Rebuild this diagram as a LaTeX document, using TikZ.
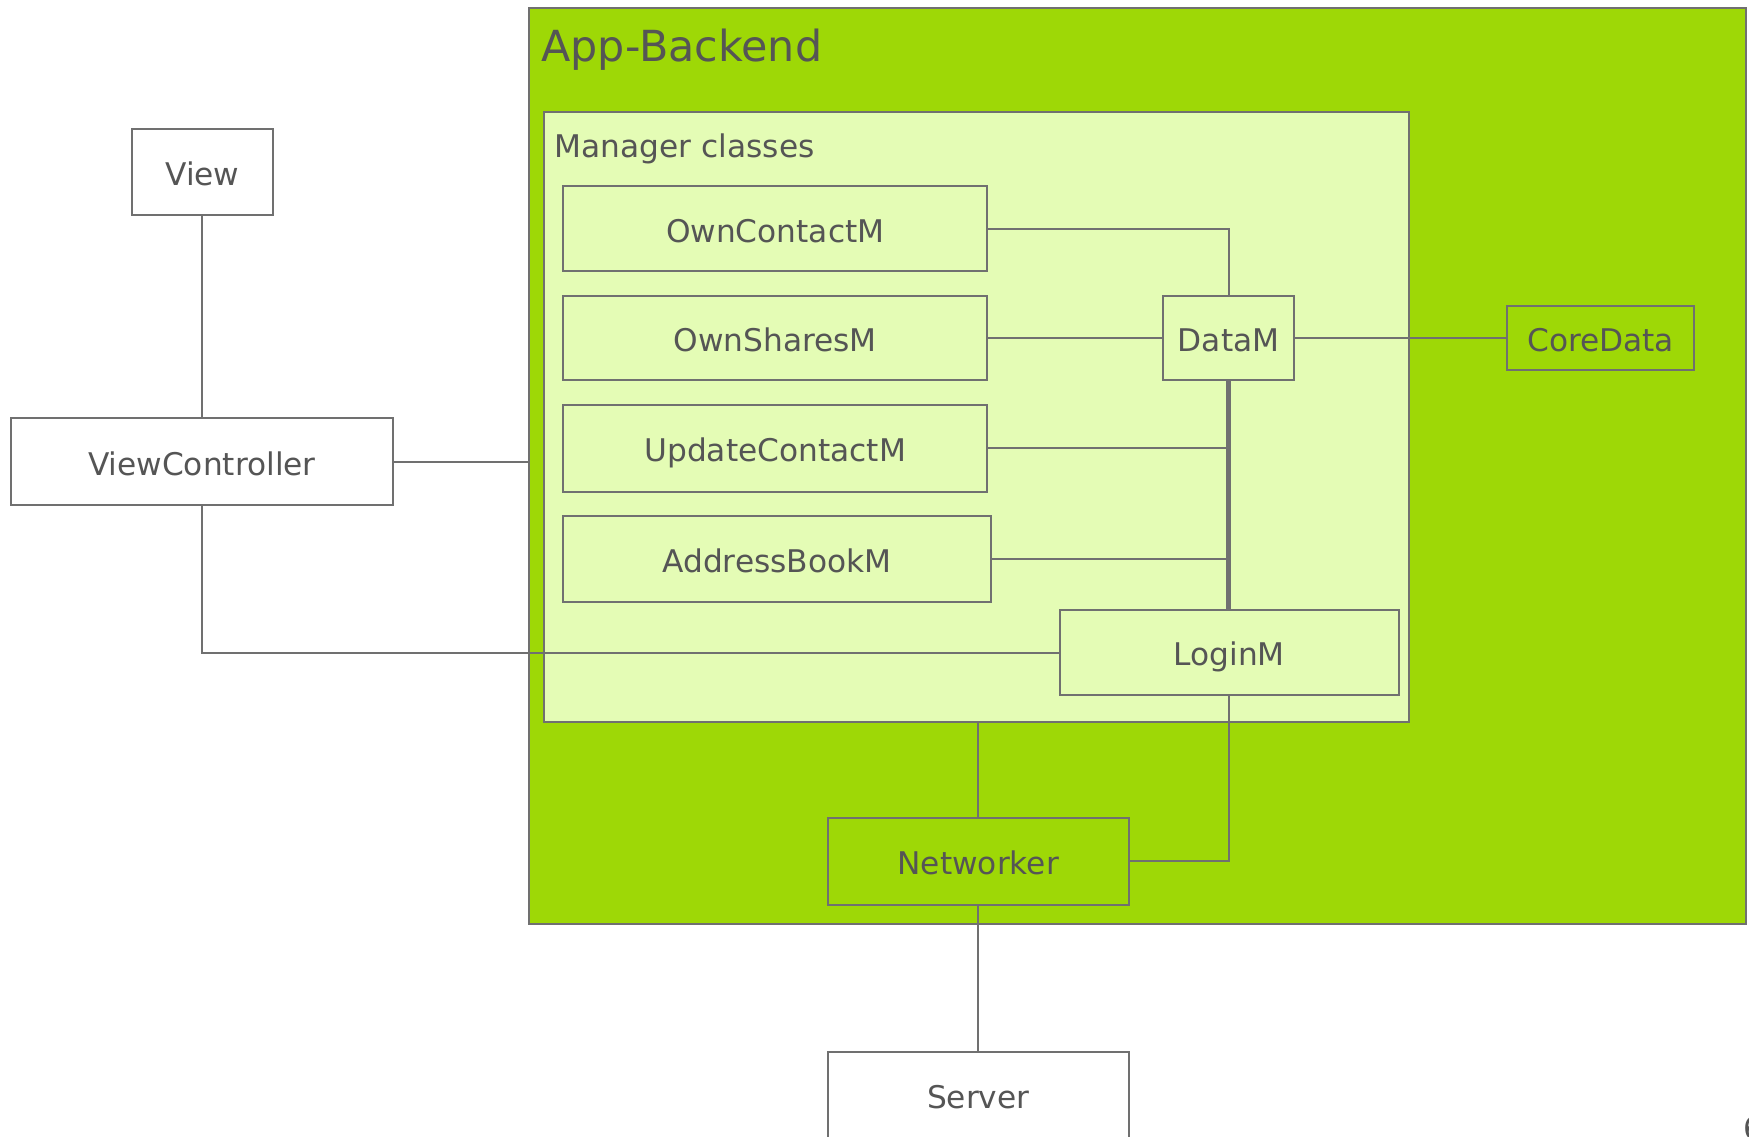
\documentclass[tikz,border=0pt]{standalone}
\usepackage{fontspec}
\setmainfont{DejaVu Sans}
\definecolor{linegray}{HTML}{707070}
\definecolor{textgray}{HTML}{555555}
\definecolor{appgreen}{HTML}{9ED806}
\definecolor{lightgreen}{HTML}{E4FCB5}
\begin{document}
\begin{tikzpicture}[x=0.5pt,y=-0.5pt,
  every node/.style={text=textgray, font=\fontsize{14}{16}\selectfont},
  box/.style={draw=linegray, line width=0.9pt, inner sep=0pt, outer sep=0pt, rectangle, text height=12pt, text depth=0pt},
  mgr/.style={box, fill=lightgreen},
  conn/.style={draw=linegray, line width=0.9pt},
  thickconn/.style={draw=linegray, line width=2.1pt}]
\useasboundingbox (0,0) rectangle (1568,1019.3);
% containers
\node[box, fill=appgreen, minimum width=545.5pt, minimum height=410.5pt] (backend) at (1019.5,417.5) {};
\node[anchor=base west, inner sep=0pt, font=\fontsize{19.2}{23}\selectfont] (backendlbl) at (485,55) {App-Backend};
\node[box, fill=lightgreen, minimum width=387.5pt, minimum height=273.5pt] (manager) at (875.5,373.5) {};
\node[anchor=base west, inner sep=0pt] (managerlbl) at (497,141) {Manager classes};
% manager boxes
\node[mgr, minimum width=190pt, minimum height=38pt] (ownc) at (695,205) {OwnContactM};
\node[mgr, minimum width=190pt, minimum height=38pt] (owns) at (695,303) {OwnSharesM};
\node[mgr, minimum width=190pt, minimum height=39pt] (upd) at (695,402) {UpdateContactM};
\node[mgr, minimum width=191.5pt, minimum height=38.5pt] (addr) at (696.5,501.5) {AddressBookM};
\node[mgr, minimum width=58.5pt, minimum height=38pt] (datam) at (1101.5,303) {DataM};
\node[mgr, minimum width=152pt, minimum height=38pt] (login) at (1102,585) {LoginM};
% green boxes
\node[box, fill=appgreen, minimum width=84pt, minimum height=28.5pt] (core) at (1435,303) {CoreData};
\node[box, fill=appgreen, minimum width=135pt, minimum height=39pt] (net) at (877,772) {Networker};
% outside boxes
\node[box, fill=white, minimum width=135pt, minimum height=39pt] (server) at (877,982) {Server};
\node[box, fill=white, minimum width=63.5pt, minimum height=38.5pt] (view) at (181.5,154.5) {View};
\node[box, fill=white, minimum width=171pt, minimum height=39pt] (vc) at (181,414) {ViewController};
% connectors
\draw[conn] (ownc.east) -| (datam.north);
\draw[conn] (owns.east) -- (datam.west);
\draw[conn] (datam.east) -- (core.west);
\draw[thickconn] (datam.south) -- (datam.south |- login.north);
\draw[conn] (upd.east) -- (upd.east -| datam.south);
\draw[conn] (addr.east) -- (addr.east -| datam.south);
\draw[conn] (view.south) -- (view.south |- vc.north);
\draw[conn] (vc.east) -- (vc.east -| backend.west);
\draw[conn] (vc.south) |- (login.west);
\draw[conn] (net.north |- manager.south) -- (net.north);
\draw[conn] (login.south) |- (net.east);
\draw[conn] (net.south) -- (server.north);
% page number, cut by the page edge
\node[anchor=base west, inner sep=0pt] (pagenum) at (1563,1022) {6};
\end{tikzpicture}
\end{document}
